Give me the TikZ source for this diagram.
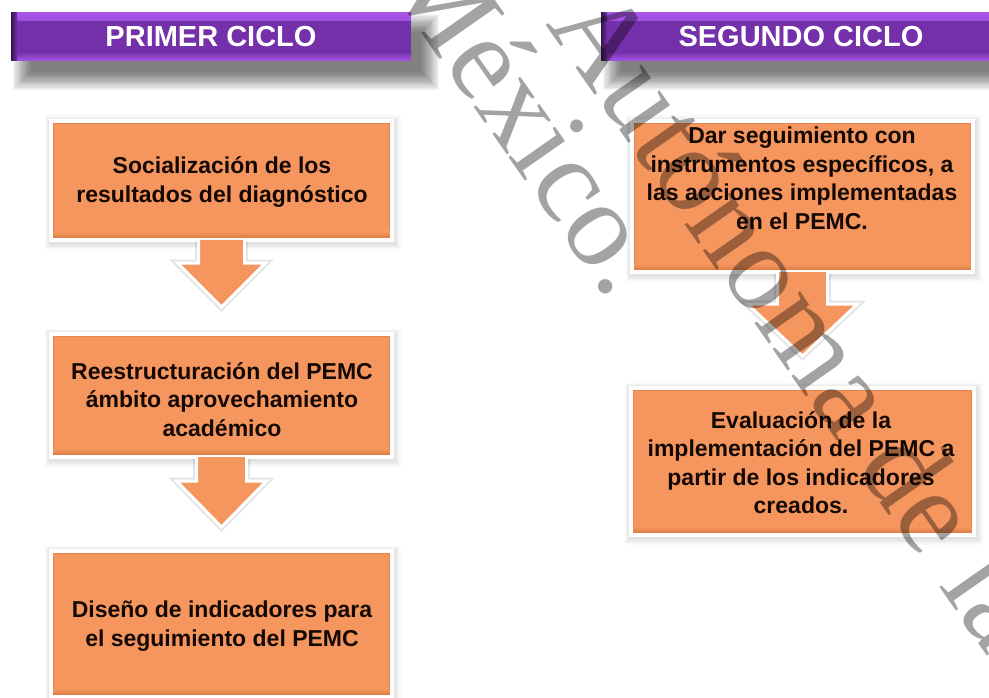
\documentclass[tikz,border=0pt]{standalone}
\usepackage{fontspec}
\setmainfont{Liberation Sans}
\newfontfamily\wmfont{Liberation Serif}
\usetikzlibrary{calc}
\definecolor{boxorange}{HTML}{F5965F}
\definecolor{boxrim}{HTML}{D4703A}
\definecolor{barpurple}{HTML}{7330A8}
\definecolor{barlight}{HTML}{A855EA}
\definecolor{txtdark}{HTML}{140803}
\tikzset{
  headerbar/.style={rectangle, inner sep=0pt, fill=barpurple, text=white,
    font=\fontsize{29}{29}\selectfont\bfseries,
    path picture={
      \shade[top color=barlight, bottom color=barpurple] (path picture bounding box.north west) rectangle ([yshift=-8pt]path picture bounding box.north east);
      \shade[top color=barpurple, bottom color=barlight] ([yshift=9pt]path picture bounding box.south west) rectangle (path picture bounding box.south east);
      \shade[left color=black!55!barpurple, right color=barpurple] (path picture bounding box.south west) rectangle ([xshift=6pt]path picture bounding box.north west);
    }},
  orangebox/.style={rectangle, inner sep=0pt, fill=boxorange, draw=white, line width=4pt,
    path picture={
      \draw[boxrim, line width=6pt, opacity=0.45] (path picture bounding box.south west) rectangle (path picture bounding box.north east);
      \shade[top color=boxorange, bottom color=boxrim] ([yshift=8pt]path picture bounding box.south west) rectangle (path picture bounding box.south east);
    }},
  arrowshape/.style={fill=boxorange, draw=white, line width=3pt, line join=miter},
  arrowshadow/.style={draw=black, draw opacity=0.1, line width=7pt, line join=miter},
  boxtext/.style={align=center, text=txtdark, font=\fontsize{23}{28.5}\selectfont\bfseries, inner sep=0pt},
  wmtext/.style={font=\wmfont\fontsize{121}{121}\selectfont, text=black, text opacity=0.36, rotate=-55, inner sep=0pt}
}
% layered soft shadow: #1 cx, #2 cy, #3 w, #4 h, #5 layers, #6 step, #7 opacity per layer, #8 base grow
\newcommand{\rectshadow}[8]{%
  \foreach \i in {1,...,#5}{
    \fill[black, opacity=#7] ({#1-#3/2-(#8)-\i*#6},{#2-#4/2-(#8)-\i*#6}) rectangle ({#1+#3/2+(#8)+\i*#6},{#2+#4/2+(#8)+\i*#6});
  }}
% block arrow below node: #1 node, #2 shaft half width, #3 shoulder offset, #4 head half width, #5 tip offset
\newcommand{\blkarrow}[5]{%
  \path[arrowshadow, yshift=-1.5pt] ($(#1.south)+(-#2,0)$) -- ($(#1.south)+(-#2,#3)$) -- ($(#1.south)+(-#4,#3)$)
    -- ($(#1.south)+(0,#5)$) -- ($(#1.south)+(#4,#3)$) -- ($(#1.south)+(#2,#3)$) -- ($(#1.south)+(#2,0)$);
  \path[arrowshape] ($(#1.south)+(-#2,-2)$) -- ($(#1.south)+(-#2,#3)$) -- ($(#1.south)+(-#4,#3)$)
    -- ($(#1.south)+(0,#5)$) -- ($(#1.south)+(#4,#3)$) -- ($(#1.south)+(#2,#3)$) -- ($(#1.south)+(#2,-2)$);
}
\begin{document}
\begin{tikzpicture}[x=1pt,y=-1pt]
\useasboundingbox (0,0) rectangle (989,698);
\clip (0,0) rectangle (989,698);
\fill[white] (0,0) rectangle (989,698);

% soft shadows (drawn first)
\rectshadow{226}{52}{396}{46}{16}{1.2}{0.04}{-4}
\rectshadow{816}{52}{396}{46}{16}{1.2}{0.04}{-4}
\rectshadow{222.5}{182.5}{341}{119}{5}{1.3}{0.022}{1}
\rectshadow{222.5}{397.5}{341}{123}{5}{1.3}{0.022}{1}
\rectshadow{222.5}{626}{341}{146}{5}{1.3}{0.022}{1}
\rectshadow{803.5}{198.5}{341}{151}{5}{1.3}{0.022}{1}
\rectshadow{803.5}{463.5}{343}{147}{5}{1.3}{0.022}{1}

% headers
\node[headerbar, minimum width=400pt, minimum height=48pt] (h1) at (211,37) {PRIMER CICLO};
\node[headerbar, minimum width=400pt, minimum height=48pt] (h2) at (801,37) {SEGUNDO CICLO};

% boxes
\node[orangebox, minimum width=341pt, minimum height=119pt] (b1) at (221.5,180.5) {};
\node[orangebox, minimum width=341pt, minimum height=123pt] (b2) at (221.5,395.5) {};
\node[orangebox, minimum width=341pt, minimum height=146pt] (b3) at (221.5,624) {};
\node[orangebox, minimum width=341pt, minimum height=151pt] (b4) at (802.5,196.5) {};
\node[orangebox, minimum width=343pt, minimum height=147pt] (b5) at (802.5,461.5) {};

% arrows
\blkarrow{b1}{23}{21}{44}{65}
\blkarrow{b2}{25}{22}{45}{68}
\blkarrow{b4}{25}{30}{55}{82}

% texts
\node[boxtext] (t1) at (222,182) {Socialización de los\\resultados del diagnóstico};
\node[boxtext] (t2) at (222,399.5) {Reestructuración del PEMC\\ámbito aprovechamiento\\académico};
\node[boxtext] (t3) at (222,626) {Diseño de indicadores para\\el seguimiento del PEMC};
\node[boxtext] (t4) at (802,178.5) {Dar seguimiento con\\instrumentos específicos, a\\las acciones implementadas\\en el PEMC.};
\node[boxtext] (t5) at (801,462.5) {Evaluación de la\\implementación del PEMC a\\partir de los indicadores\\creados.};

% watermark
\node[wmtext, anchor=base east] (wm1) at (610,302) {México.};
\node[wmtext, anchor=base west] (wm2) at (545,24) {Autónoma de la};
\end{tikzpicture}
\end{document}
